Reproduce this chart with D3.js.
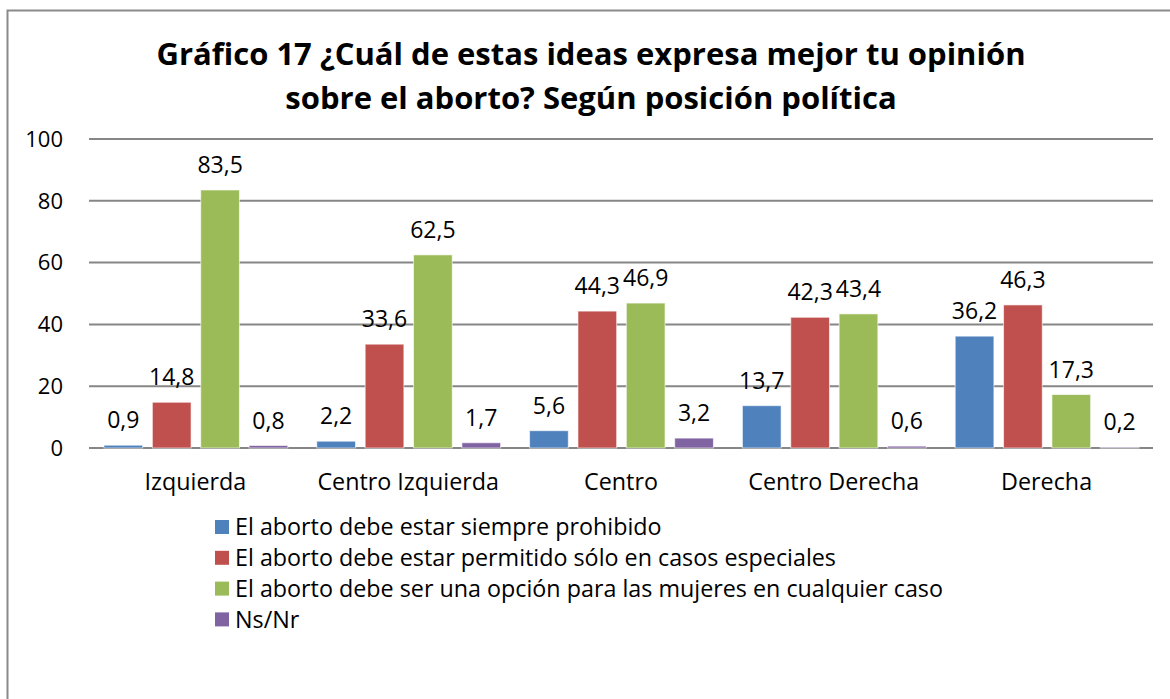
<!DOCTYPE html>
<html lang="es">
<head>
    <meta charset="UTF-8">
    <title>Gráfico 17</title>
    <script src="https://d3js.org/d3.v7.min.js"></script>
    <style>
        body { margin: 0; background: #fff; }
        svg text { font-family: "Open Sans", sans-serif; fill: #000; }
    </style>
</head>
<body>
    <div id="chart"></div>
    <script>
        // Data
        var categories = ["Izquierda", "Centro Izquierda", "Centro", "Centro Derecha", "Derecha"];
        var seriesNames = [
            "El aborto debe estar siempre prohibido",
            "El aborto debe estar permitido sólo en casos especiales",
            "El aborto debe ser una opción para las mujeres en cualquier caso",
            "Ns/Nr"
        ];
        var prohibido = [0.9, 2.2, 5.6, 13.7, 36.2];
        var especiales = [14.8, 33.6, 44.3, 42.3, 46.3];
        var opcion = [83.5, 62.5, 46.9, 43.4, 17.3];
        var nsnr = [0.8, 1.7, 3.2, 0.6, 0.2];
        var yTicks = [0, 20, 40, 60, 80, 100];
        var colors = ["#4F81BD", "#C0504D", "#9BBB59", "#8064A2"];
        var titleLines = [
            "Gráfico 17 ¿Cuál de estas ideas expresa mejor tu opinión",
            "sobre el aborto? Según posición política"
        ];

        var series = [prohibido, especiales, opcion, nsnr];

        var W = 1170, H = 699;
        var svg = d3.select("#chart").append("svg")
            .attr("width", W)
            .attr("height", H);

        // outer chart frame (right and bottom edges fall outside the picture)
        svg.append("rect")
            .attr("x", 7.5).attr("y", 10.5)
            .attr("width", W).attr("height", H)
            .style("fill", "#fff")
            .style("stroke", "#8a8a8a")
            .style("stroke-width", 2);

        // title
        svg.append("g").selectAll("text")
            .data(titleLines)
            .enter().append("text")
            .attr("x", 591)
            .attr("y", function(d, i) { return 65 + i * 44; })
            .attr("text-anchor", "middle")
            .style("font-size", "31px")
            .style("font-weight", "bold")
            .text(function(d) { return d; });

        var plot = { left: 89, right: 1153, top: 139, bottom: 448 };

        var x0 = d3.scaleBand()
            .domain(categories)
            .range([plot.left, plot.right])
            .padding(0);

        var x1 = d3.scaleBand()
            .domain(d3.range(series.length))
            .range([15, x0.bandwidth() - 14])
            .paddingInner(0.2);

        var y = d3.scaleLinear()
            .domain([0, 100])
            .range([plot.bottom, plot.top]);

        // gridlines
        svg.append("g").selectAll("line")
            .data(yTicks)
            .enter().append("line")
            .attr("x1", plot.left).attr("x2", plot.right)
            .attr("y1", function(d) { return y(d); })
            .attr("y2", function(d) { return y(d); })
            .style("stroke", "#868686")
            .style("stroke-width", 2);

        // y axis labels
        svg.append("g").selectAll("text")
            .data(yTicks)
            .enter().append("text")
            .attr("x", 63)
            .attr("y", function(d) { return y(d); })
            .attr("dy", "0.35em")
            .attr("text-anchor", "end")
            .style("font-size", "22px")
            .text(function(d) { return d; });

        // bars
        var groups = svg.append("g").selectAll("g")
            .data(categories)
            .enter().append("g")
            .attr("transform", function(d) { return "translate(" + x0(d) + ",0)"; });

        groups.selectAll("rect")
            .data(function(d, ci) { return series.map(function(s, si) { return { si: si, v: s[ci] }; }); })
            .enter().append("rect")
            .attr("x", function(d) { return x1(d.si); })
            .attr("y", function(d) { return y(d.v); })
            .attr("width", x1.bandwidth())
            .attr("height", function(d) { return y(0) - y(d.v); })
            .style("fill", function(d) { return colors[d.si]; })
            .style("stroke", "#fff")
            .style("stroke-opacity", 0.6)
            .style("stroke-width", 1);

        // value labels
        groups.selectAll("text")
            .data(function(d, ci) { return series.map(function(s, si) { return { si: si, v: s[ci] }; }); })
            .enter().append("text")
            .attr("x", function(d) { return x1(d.si) + x1.bandwidth() / 2; })
            .attr("y", function(d) { return y(d.v) - 17; })
            .attr("text-anchor", "middle")
            .style("font-size", "23px")
            .text(function(d) { return String(d.v).replace(".", ","); });

        // category labels
        svg.append("g").selectAll("text")
            .data(categories)
            .enter().append("text")
            .attr("x", function(d) { return x0(d) + x0.bandwidth() / 2; })
            .attr("y", 490)
            .attr("text-anchor", "middle")
            .style("font-size", "23.3px")
            .text(function(d) { return d; });

        // legend
        var legend = svg.append("g").selectAll("g")
            .data(seriesNames)
            .enter().append("g")
            .attr("transform", function(d, i) { return "translate(215," + (527 + i * 30.8) + ")"; });

        legend.append("rect")
            .attr("x", 0).attr("y", -7)
            .attr("width", 14).attr("height", 14)
            .style("fill", function(d, i) { return colors[i]; });

        legend.append("text")
            .attr("x", 20)
            .attr("y", 0)
            .attr("dy", "0.35em")
            .style("font-size", "23.3px")
            .text(function(d) { return d; });
    </script>
</body>
</html>
